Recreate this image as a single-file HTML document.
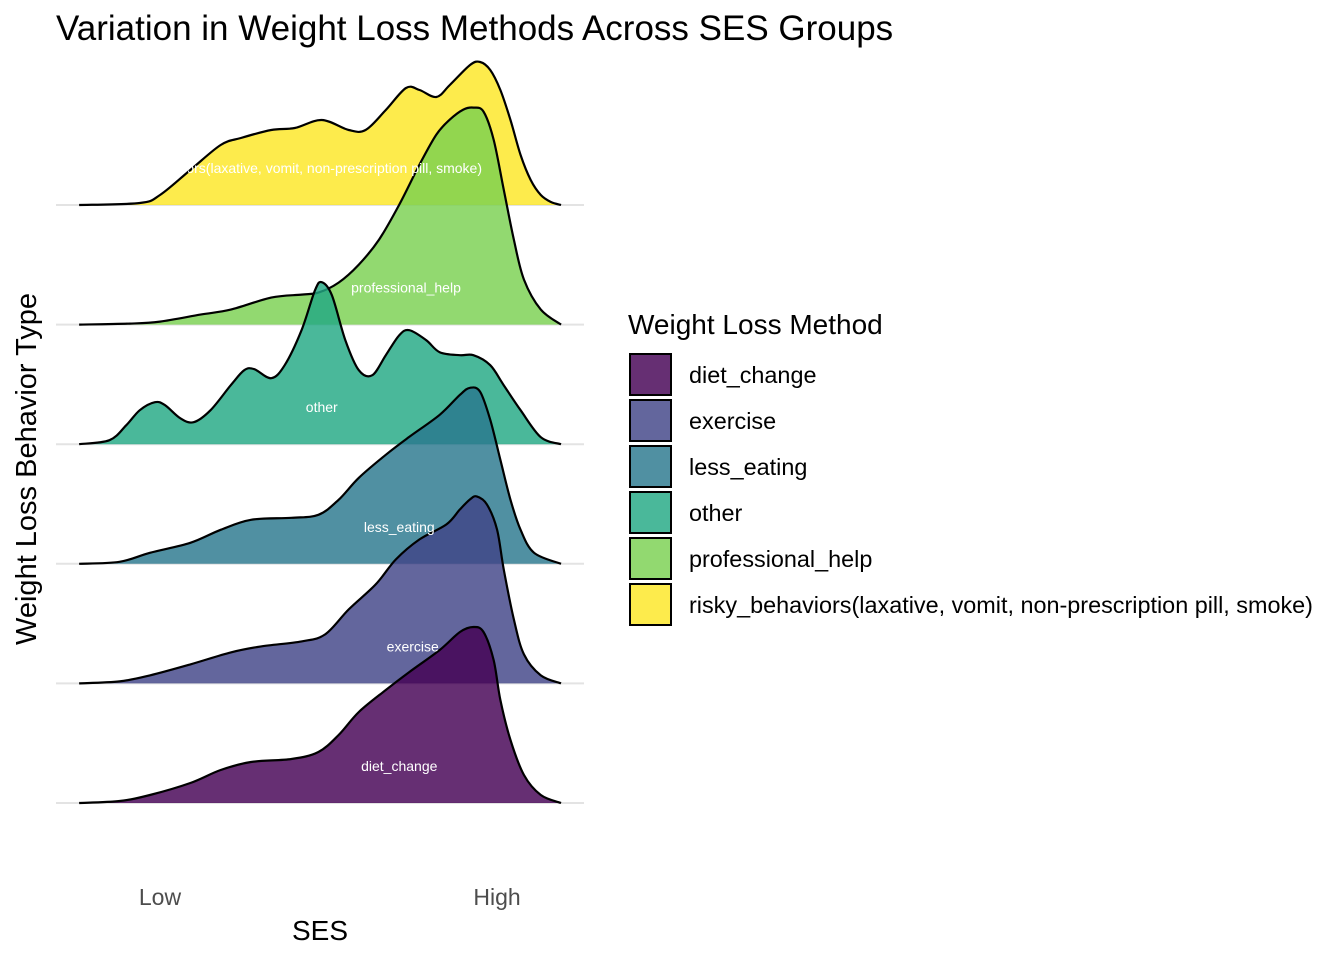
<!DOCTYPE html>
<html><head><meta charset="utf-8">
<style>
body{margin:0;background:#fff;}
svg{display:block;font-family:"Liberation Sans",Arial,sans-serif;}
</style></head>
<body>
<svg id="chart" width="1344" height="960" viewBox="0 0 1344 960">
<defs><clipPath id="riskyClip"><rect x="188" y="0" width="1000" height="960"/></clipPath></defs>
<text x="56" y="40" font-size="35" fill="#000">Variation in Weight Loss Methods Across SES Groups</text>
<g id="grid"></g>
<g id="ridges"></g>
<g id="labels"></g>
<text x="160" y="905" font-size="23" fill="#4d4d4d" text-anchor="middle">Low</text>
<text x="497" y="905" font-size="23" fill="#4d4d4d" text-anchor="middle">High</text>
<text x="320" y="940" font-size="28" fill="#000" text-anchor="middle">SES</text>
<text transform="translate(36,469) rotate(-90)" font-size="29" fill="#000" text-anchor="middle">Weight Loss Behavior Type</text>
<g id="legend">
<text x="628" y="334" font-size="28" fill="#000">Weight Loss Method</text>
</g>
</svg>
<script>
const categories = ["diet_change","exercise","less_eating","other","professional_help","risky_behaviors(laxative, vomit, non-prescription pill, smoke)"];
const colors = ["#440154","#414487","#2A788E","#22A884","#7AD151","#FDE725"];
const dietSeries = [[-24,0],[-12,.02],[-3,.08],[9,.20],[18,.33],[27,.41],[39,.44],[47,.51],[53,.68],[59,.91],[67,1.13],[74,1.31],[83,1.53],[89,1.71],[93,1.76],[96,1.71],[99,1.43],[101,1.03],[104,.63],[108,.28],[113,.08],[119,0]];
const exerciseSeries = [[-24,0],[-12,.02],[-3,.08],[9,.19],[21,.31],[30,.37],[42,.42],[49,.49],[56,.74],[64,.99],[70,1.24],[77,1.44],[85,1.59],[89,1.74],[92,1.84],[94,1.87],[97,1.79],[100,1.54],[102,1.14],[105,.64],[108,.29],[113,.08],[119,0]];
const lessSeries = [[-24,0],[-12,.02],[-3,.11],[9,.21],[18,.34],[27,.44],[39,.46],[47,.49],[53,.64],[59,.86],[67,1.09],[74,1.27],[83,1.49],[89,1.69],[92,1.76],[95,1.72],[98,1.44],[101,1.04],[104,.64],[107,.34],[111,.11],[119,0]];
const otherSeries = [[-24,0],[-15,.04],[-10,.19],[-6,.34],[-1.5,.42],[1.5,.39],[6,.26],[10,.22],[15,.34],[21,.59],[25,.74],[28,.75],[33,.66],[37,.79],[42,1.14],[46,1.54],[48,1.62],[51,1.49],[55,1.04],[59,.74],[63,.69],[67,.89],[71,1.09],[74,1.14],[79,1.04],[83,.92],[89,.89],[93,.89],[98,.79],[102,.59],[107,.34],[113,.07],[119,0]];
const profSeries = [[-24,0],[-9,.01],[0,.03],[12,.10],[21,.15],[33,.27],[42,.30],[47,.32],[53,.42],[59,.60],[65,.85],[71,1.20],[77,1.60],[82,1.90],[86,2.05],[90,2.15],[93,2.17],[96,2.13],[99,1.85],[102,1.35],[105,.85],[108,.45],[113,.15],[119,0]];
const riskySeries = [[-24,0],[-6,.02],[0,.10],[9,.35],[18,.60],[24,.67],[33,.75],[40,.77],[48,.85],[56,.75],[61,.75],[67,.95],[73,1.17],[77,1.15],[82,1.08],[86,1.20],[92,1.40],[95,1.43],[98,1.35],[101,1.15],[104,.85],[107,.50],[110,.25],[113,.10],[116,.03],[119,0]];
const labelX = [71,75,71,48,73,95];

const allSeries = [dietSeries,exerciseSeries,lessSeries,otherSeries,profSeries,riskySeries];
const NS="http://www.w3.org/2000/svg";
function xScale(v){return 160+v*3.37;}
function baseY(i){return 803-i*119.6;}
function yScale(i,d){return baseY(i)-d*100;}
function pathFor(pts){
  let d="M"+pts[0][0]+","+pts[0][1];
  for(let k=0;k<pts.length-1;k++){
    const p0=pts[Math.max(0,k-1)],p1=pts[k],p2=pts[k+1],p3=pts[Math.min(pts.length-1,k+2)];
    const c1x=p1[0]+(p2[0]-p0[0])/6,c1y=p1[1]+(p2[1]-p0[1])/6;
    const c2x=p2[0]-(p3[0]-p1[0])/6,c2y=p2[1]-(p3[1]-p1[1])/6;
    d+=" C"+c1x+","+c1y+" "+c2x+","+c2y+" "+p2[0]+","+p2[1];
  }
  return d;
}
const grid=document.getElementById('grid');
for(let i=0;i<categories.length;i++){
  const l=document.createElementNS(NS,'line');
  l.setAttribute('x1',56);l.setAttribute('x2',584);
  l.setAttribute('y1',baseY(i));l.setAttribute('y2',baseY(i));
  l.setAttribute('stroke','#e3e3e3');l.setAttribute('stroke-width',2);
  
  
  grid.appendChild(l);
}
const ridges=document.getElementById('ridges');
const labels=document.getElementById('labels');
for(let i=categories.length-1;i>=0;i--){
  const pts=allSeries[i].map(p=>[xScale(p[0]),yScale(i,p[1])]);
  const d=pathFor(pts);
  const f=document.createElementNS(NS,'path');
  f.setAttribute('d',d+" Z");
  f.setAttribute('fill',colors[i]);f.setAttribute('fill-opacity',0.82);
  
  
  ridges.appendChild(f);
  const s=document.createElementNS(NS,'path');
  s.setAttribute('d',d);s.setAttribute('fill','none');
  s.setAttribute('stroke','#000');s.setAttribute('stroke-width',2.2);
  
  
  ridges.appendChild(s);
  const t=document.createElementNS(NS,'text');
  t.setAttribute('y',baseY(i)-32);
  t.setAttribute('font-size',14);
  t.setAttribute('fill','#fff');
  if(i===categories.length-1){
    t.setAttribute('x',482);
    t.setAttribute('text-anchor','end');
    t.setAttribute('clip-path','url(#riskyClip)');
  } else {
    t.setAttribute('x',xScale(labelX[i]));
    t.setAttribute('text-anchor','middle');
  }
  t.textContent=categories[i];
  
  
  labels.appendChild(t);
}
const legend=document.getElementById('legend');
for(let i=0;i<categories.length;i++){
  const y=354+i*46;
  const r=document.createElementNS(NS,'rect');
  r.setAttribute('x',630);r.setAttribute('y',y);r.setAttribute('width',41);r.setAttribute('height',41);
  r.setAttribute('fill',colors[i]);r.setAttribute('fill-opacity',0.82);
  r.setAttribute('stroke','#000');r.setAttribute('stroke-width',2);
  
  
  legend.appendChild(r);
  const t=document.createElementNS(NS,'text');
  t.setAttribute('x',689);t.setAttribute('y',y+29);t.setAttribute('font-size',23.4);
  t.textContent=categories[i];
  
  
  legend.appendChild(t);
}
</script>
</body></html>
